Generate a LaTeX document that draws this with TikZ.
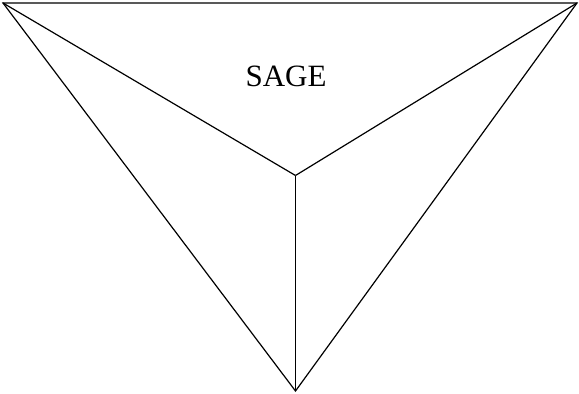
\documentclass[tikz,border=0pt]{standalone}
\usepackage{fontspec}
\setmainfont{Liberation Serif}
\begin{document}
\begin{tikzpicture}[x=1pt,y=-1pt,edge/.style={draw=black,line width=1.2pt,line join=miter}]
\useasboundingbox (0,0) rectangle (579,394);
\coordinate (A) at (3,3);
\coordinate (B) at (577,3);
\coordinate (C) at (295.5,391);
\coordinate (O) at (295.5,175.5);
\draw[edge] (A) -- (B) -- (C) -- cycle;
\draw[edge] (A) -- (O);
\draw[edge] (B) -- (O);
\draw[edge] (O) -- (C);
\node[font=\fontsize{31}{36}\selectfont,inner sep=0pt] (sage) at (286,76) {SAGE};
\end{tikzpicture}
\end{document}
